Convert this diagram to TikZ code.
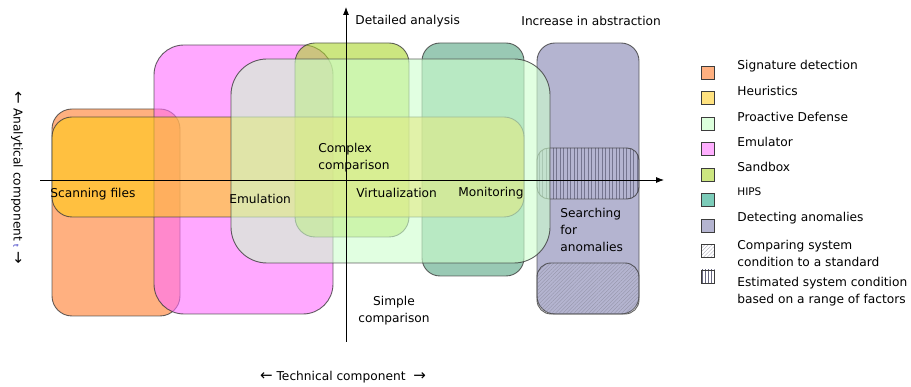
\documentclass[tikz,border=0pt]{standalone}
\usepackage{fontspec}
\setmainfont{DejaVu Sans}
\usetikzlibrary{arrows.meta,patterns.meta}

\definecolor{sigcol}{RGB}{255,123,43}
\definecolor{heucol}{RGB}{255,203,21}
\definecolor{procol}{RGB}{205,255,205}
\definecolor{emucol}{RGB}{255,110,255}
\definecolor{sndcol}{RGB}{170,213,43}
\definecolor{hipcol}{RGB}{85,165,130}
\definecolor{anocol}{RGB}{130,130,177}
\definecolor{edgecol}{RGB}{60,60,60}
\definecolor{hatchcol}{RGB}{75,75,105}

\newcommand{\bigarrow}[1]{{\fontsize{15}{15}\selectfont #1}}

\begin{document}
\begin{tikzpicture}[x=1pt,y=-1pt,thick,
        font=\fontsize{12.2}{17}\selectfont,
        area/.style={draw=edgecol,line width=0.9pt,draw opacity=0.8,fill opacity=0.6},
        vhatch/.style={pattern={Lines[angle=90,distance=3.5pt,line width=0.4pt]},pattern color=hatchcol!85},
        dhatch/.style={pattern={Lines[angle=45,distance=2.6pt,line width=0.35pt]},pattern color=hatchcol!65},
        legbox/.style={draw=edgecol,line width=0.8pt,minimum size=13pt,inner sep=0pt},
        label text/.style={anchor=west,inner sep=0pt,align=left},
        axis/.style={line width=0.8pt,-{Latex[length=8pt,width=6pt]}}]

    \useasboundingbox (0,0) rectangle (911,387);

    % areas
    \draw[area,fill=sigcol,rounded corners=20pt] (52,109) rectangle (180,316);
    \draw[area,fill=emucol,rounded corners=30pt] (154,45) rectangle (333,314);
    \draw[area,fill=sndcol,rounded corners=20pt] (295,43) rectangle (409,237);
    \draw[area,fill=hipcol,rounded corners=18pt] (422,43) rectangle (524,276);
    \draw[area,fill=anocol,rounded corners=18pt] (537,43) rectangle (639,314);
    \draw[area,fill opacity=1,vhatch,rounded corners=12pt] (537,148) rectangle (639,199);
    \draw[area,fill opacity=1,dhatch,rounded corners=14pt] (537,263) rectangle (639,314);
    \draw[area,fill=heucol,rounded corners=20pt] (52,117) rectangle (524,217);
    \draw[area,fill=procol,rounded corners=36pt] (231,59) rectangle (550,263);

    % axes
    \coordinate (xl) at (40,180);
    \coordinate (xr) at (664,180);
    \coordinate (yb) at (346,342);
    \coordinate (yt) at (346,7);
    \draw[axis] (xl) -- (xr);
    \draw[axis] (yb) -- (yt);

    \node[label text] (detl) at (355,21) {Detailed analysis};
    \node[label text] (abst) at (521,21) {Increase in abstraction};
    \node (tech) at (343,377) {\bigarrow{←} Technical component \ \bigarrow{→}};
    \node[rotate=-90] (anal) at (17,178) {\bigarrow{←} Analytical component {\color{blue!70!black}\scriptsize t} \bigarrow{→}};

    % texts in the areas
    \node[label text] (scan) at (50,194) {Scanning files};
    \node[label text] (emul) at (229,199) {Emulation};
    \node[label text] (cplx) at (318,157.5) {Complex\\comparison};
    \node[label text] (virt) at (356,193) {Virtualization};
    \node[label text] (moni) at (458,193) {Monitoring};
    \node[label text] (srch) at (560,229.5) {Searching\\for\\anomalies};
    \node[align=center,inner sep=0pt] (simp) at (394,310.5) {Simple\\comparison};

    % legend
    \node[legbox,fill=sigcol,fill opacity=0.6] (l1) at (708,72.5) {};
    \node[legbox,fill=heucol,fill opacity=0.55] (l2) at (708,98) {};
    \node[legbox,fill=procol,fill opacity=0.7] (l3) at (708,123.5) {};
    \node[legbox,fill=emucol,fill opacity=0.55] (l4) at (708,149) {};
    \node[legbox,fill=sndcol,fill opacity=0.6] (l5) at (708,174.5) {};
    \node[legbox,fill=hipcol!80!cyan,fill opacity=0.7] (l6) at (708,200) {};
    \node[legbox,fill=anocol,fill opacity=0.6] (l7) at (708,225.5) {};
    \node[legbox,dhatch,pattern color=hatchcol!50] (l8) at (708,251) {};
    \node[legbox,vhatch,pattern={Lines[angle=90,distance=3pt,line width=0.6pt]}] (l9) at (708,276.5) {};

    \node[label text] (t1) at (737,66) {Signature detection};
    \node[label text] (t2) at (737,91) {Heuristics};
    \node[label text] (t3) at (737,116.5) {Proactive Defense};
    \node[label text] (t4) at (737,142) {Emulator};
    \node[label text] (t5) at (737,167) {Sandbox};
    \node[label text,font=\fontsize{10.5}{13}\selectfont] (t6) at (737,192) {HIPS};
    \node[label text] (t7) at (737,218) {Detecting anomalies};
    \node[label text] (t8) at (737,253.5) {Comparing system\\condition to a standard};
    \node[label text] (t9) at (737,291.5) {Estimated system condition\\based on a range of factors};

\end{tikzpicture}
\end{document}
